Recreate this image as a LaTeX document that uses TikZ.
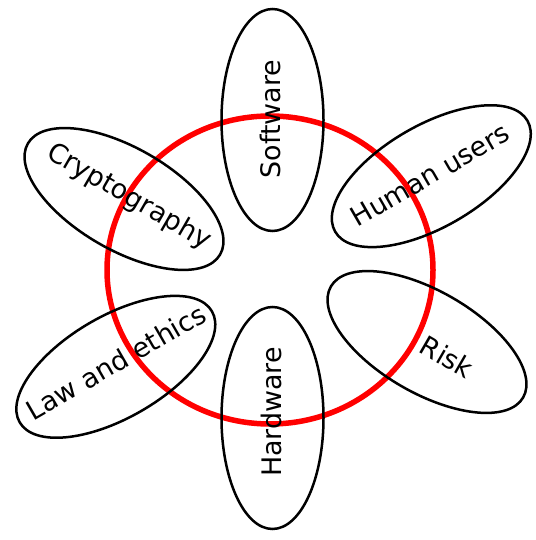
\documentclass[tikz,border=0pt]{standalone}
\usepackage{fontspec}
\setmainfont{DejaVu Sans}
\usepackage{tikz}
\usetikzlibrary{shapes.geometric}

\tikzset{petal/.style={draw, ellipse, line width=2.5bp, inner sep=0pt, minimum width=222bp, minimum height=102bp}}

\begin{document}
\begin{tikzpicture}[x=1bp,y=1bp]
\useasboundingbox (0,0) rectangle (536,540);
\draw[red, line width=5.5bp] (270,270) ellipse [x radius=163, y radius=154];
\node (sw) at (272.5,420) [petal, rotate=90] {};
\node (hu) at (431.3,363.8) [petal, rotate=30] {};
\node (ri) at (427,198) [petal, rotate=-30] {};
\node (hw) at (272.5,122) [petal, rotate=90] {};
\node (le) at (115.8,173.2) [petal, rotate=30] {};
\node (cr) at (124,341) [petal, rotate=-30] {};
\begin{scope}[font=\fontsize{27}{30}\selectfont]
\node (swl) at (270,421) [rotate=90] {Software};
\node (hul) at (430,365) [rotate=30] {Human users};
\node (ril) at (447,183) [rotate=-30] {Risk};
\node (hwl) at (271,128) [rotate=90] {Hardware};
\node (lel) at (116,178) [rotate=30] {Law and ethics};
\node (crl) at (128.7,343) [rotate=-30] {Cryptography};
\end{scope}
\end{tikzpicture}
\end{document}
